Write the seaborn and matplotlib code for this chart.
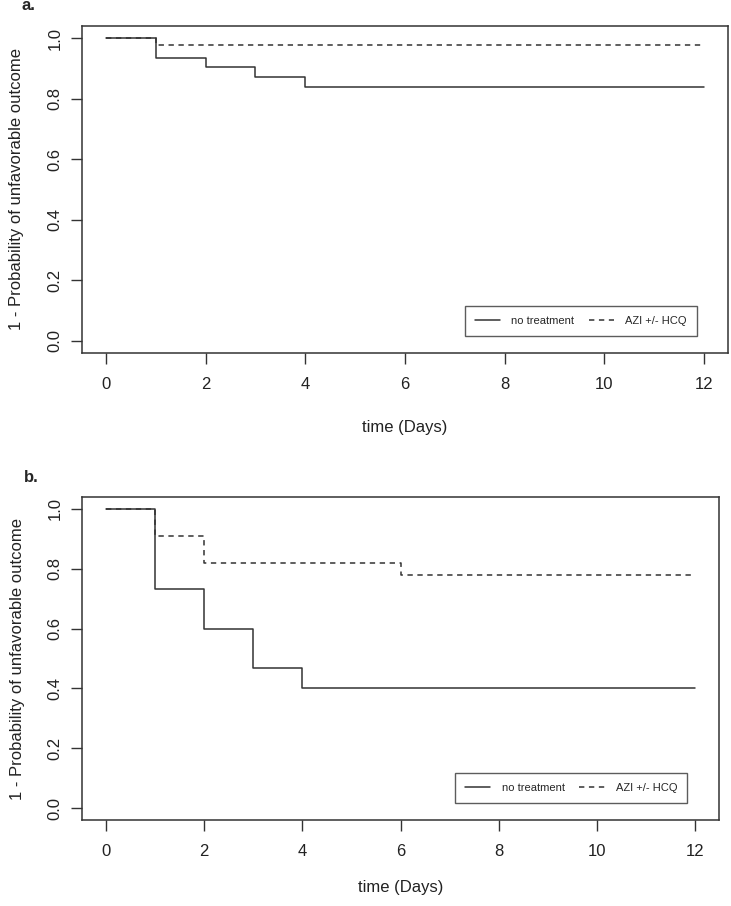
import matplotlib.pyplot as plt
import seaborn as sns
import pandas as pd

# Kaplan-Meier step values.
groups = ["no treatment", "AZI +/- HCQ"]

a_no_treatment_days = [0, 1, 2, 3, 4, 12]
a_no_treatment = [1.0, 0.935, 0.903, 0.871, 0.839, 0.839]
a_azi_days = [0, 1, 12]
a_azi = [1.0, 0.977, 0.977]

b_no_treatment_days = [0, 1, 2, 3, 4, 12]
b_no_treatment = [1.0, 0.733, 0.600, 0.467, 0.400, 0.400]
b_azi_days = [0, 1, 2, 6, 12]
b_azi = [1.0, 0.909, 0.818, 0.779, 0.779]

x_ticks = [0, 2, 4, 6, 8, 10, 12]
y_ticks = [0.0, 0.2, 0.4, 0.6, 0.8, 1.0]
panel_letters = ["a.", "b."]

sns.set_style("ticks")
plt.rcParams["font.family"] = ["Liberation Sans", "DejaVu Sans"]

INK = "#333333"


def make_frame(no_days, no_vals, azi_days, azi_vals):
    return pd.concat([
        pd.DataFrame({"time": no_days, "surv": no_vals, "group": groups[0]}),
        pd.DataFrame({"time": azi_days, "surv": azi_vals, "group": groups[1]}),
    ], ignore_index=True)


def draw_panel(ax, df, legend_anchor, xlabel_y):
    sns.lineplot(data=df, x="time", y="surv", style="group",
                 dashes={groups[0]: "", groups[1]: (3.5, 3)},
                 color=INK, linewidth=1.1, drawstyle="steps-post",
                 estimator=None, sort=False, legend=False, ax=ax)
    ax.set_xlim(-0.48, 12.48)
    ax.set_ylim(-0.04, 1.04)
    ax.set_xticks(x_ticks)
    ax.set_yticks(y_ticks)
    ax.set_xticklabels([str(t) for t in x_ticks], fontsize=12, color="#222222")
    ax.set_yticklabels([f"{t:.1f}" for t in y_ticks], fontsize=12,
                       color="#222222", rotation=90, va="center")
    ax.tick_params(axis="both", direction="out", length=8, width=1.0,
                   color=INK)
    ax.tick_params(axis="x", pad=9)
    ax.tick_params(axis="y", pad=6)
    for side in ["top", "right", "bottom", "left"]:
        ax.spines[side].set_visible(True)
        ax.spines[side].set_color(INK)
        ax.spines[side].set_linewidth(1.1)

    ax.set_xlabel("time (Days)", fontsize=12, color="#222222")
    ax.xaxis.set_label_coords(0.5, xlabel_y)
    ax.set_ylabel("1 - Probability of unfavorable outcome", fontsize=12,
                  color="#222222")
    ax.yaxis.set_label_coords(-0.09, 0.5)

    lines = ax.get_lines()
    leg = ax.legend(lines[:2], groups, loc="lower right",
                    bbox_to_anchor=legend_anchor, borderaxespad=0,
                    ncol=2, fontsize=8, frameon=True, fancybox=False,
                    edgecolor=INK, handlelength=2.3, handletextpad=1.0,
                    columnspacing=1.3, borderpad=0.9)
    leg.get_frame().set_linewidth(1.0)


fig = plt.figure(figsize=(7.31, 9.06), dpi=100)
W, H = 731, 906
ax_a = fig.add_axes([82 / W, 1 - 353 / H, (728 - 82) / W, (353 - 26) / H])
ax_b = fig.add_axes([82 / W, 1 - 820 / H, (719 - 82) / W, (820 - 497) / H])

df_a = make_frame(a_no_treatment_days, a_no_treatment, a_azi_days, a_azi)
df_b = make_frame(b_no_treatment_days, b_no_treatment, b_azi_days, b_azi)

draw_panel(ax_a, df_a, (0.952, 0.052), -0.205)
draw_panel(ax_b, df_b, (0.950, 0.053), -0.185)

fig.text(22 / W, 1 - 6 / H, panel_letters[0], fontsize=12,
         fontweight="bold", va="center", ha="left")
fig.text(24 / W, 1 - 478 / H, panel_letters[1], fontsize=12,
         fontweight="bold", va="center", ha="left")

fig.savefig("out.png", dpi=100, facecolor="white")
